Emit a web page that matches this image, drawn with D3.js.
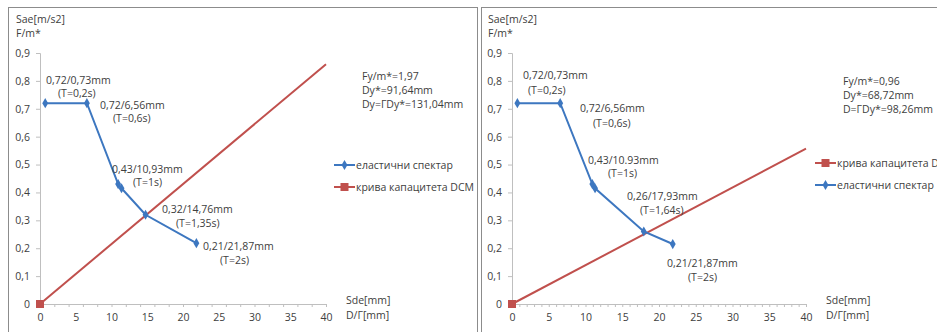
<!DOCTYPE html>
<html>
<head>
<meta charset="utf-8">
<script src="https://cdn.jsdelivr.net/npm/d3@7"></script>
<style>
  body { margin: 0; background: #fff; }
  svg text { font-family: "Open Sans", "Noto Sans", sans-serif; fill: #404040; }
</style>
</head>
<body>
<svg id="chart" width="937" height="332"></svg>
<script>
/* two capacity spectrum charts side by side */

// tick labels
var yTicks = [0, 0.1, 0.2, 0.3, 0.4, 0.5, 0.6, 0.7, 0.8, 0.9];
var xTicks = [0, 5, 10, 15, 20, 25, 30, 35, 40];

// left chart: [Sde mm, Sae]
var leftSpectrum = [[0.73, 0.72], [6.56, 0.72], [10.93, 0.43], [11.4, 0.415], [14.76, 0.32], [21.87, 0.218]];
var leftCapacity = [[0, 0], [40, 0.86]];
var leftLabels = [
  ["0,72/0,73mm", "(T=0,2s)"],
  ["0,72/6,56mm", "(T=0,6s)"],
  ["0,43/10,93mm", "(T=1s)"],
  ["0,32/14,76mm", "(T=1,35s)"],
  ["0,21/21,87mm", "(T=2s)"]
];
var leftNotes = ["Fy/m*=1,97", "Dy*=91,64mm", "Dy=ΓDy*=131,04mm"];
var leftLegend = ["еластични спектар", "крива капацитета DCM"];

// right chart
var rightSpectrum = [[0.73, 0.72], [6.56, 0.72], [10.93, 0.43], [11.3, 0.415], [17.93, 0.26], [21.87, 0.215]];
var rightCapacity = [[0, 0], [40, 0.557]];
var rightLabels = [
  ["0,72/0,73mm", "(T=0,2s)"],
  ["0,72/6,56mm", "(T=0,6s)"],
  ["0,43/10.93mm", "(T=1s)"],
  ["0,26/17,93mm", "(T=1,64s)"],
  ["0,21/21,87mm", "(T=2s)"]
];
var rightNotes = ["Fy/m*=0,96", "Dy*=68,72mm", "D=ΓDy*=98,26mm"];
var rightLegend = ["крива капацитета DCM", "еластични спектар"];

var blue = "#3d77c0", red = "#c0504d";
var svg = d3.select("#chart");

// panel frames
svg.append("rect").attr("x", 8.5).attr("y", 7.5).attr("width", 469).attr("height", 340)
  .attr("fill", "none").attr("stroke", "#8c8c8c");
svg.append("rect").attr("x", 481.5).attr("y", 7.5).attr("width", 470).attr("height", 340)
  .attr("fill", "none").attr("stroke", "#8c8c8c");

drawPanel({
  ox: 40, x40: 326, minor: 20,
  spectrum: leftSpectrum, capacity: leftCapacity,
  labels: leftLabels,
  // x, baseline, x of second line, gap
  labelPos: [[46, 84, 58, 13], [100, 109, 113, 13], [112, 173, 133, 13], [162, 213, 176, 14], [203, 250, 220, 14]],
  notes: leftNotes, notePos: [362, 80],
  legend: leftLegend, legendColors: [blue, red], legendPos: [334, 165]
});

drawPanel({
  ox: 512, x40: 806, minor: 40,
  spectrum: rightSpectrum, capacity: rightCapacity,
  labels: rightLabels,
  labelPos: [[523, 79, 528, 15], [580, 112, 593, 15], [588, 164, 608, 13], [627, 200, 640, 14], [667, 267, 688, 14]],
  notes: rightNotes, notePos: [843, 85],
  legend: rightLegend, legendColors: [red, blue], legendPos: [815, 163]
});

function drawPanel(c) {
  var x = d3.scaleLinear().domain([0, 40]).range([c.ox, c.x40]);
  var y = d3.scaleLinear().domain([0, 0.9]).range([304, 53]);
  var g = svg.append("g");

  // y axis
  var ya = g.append("g").attr("transform", "translate(" + c.ox + ",0)")
    .call(d3.axisLeft(y).tickValues(yTicks).tickSize(4).tickPadding(6)
      .tickFormat(function(d) { return d === 0 ? "0" : d3.format(".1f")(d).replace(".", ","); }));
  ya.select(".domain").attr("stroke", "#bfbfbf");
  ya.selectAll(".tick line").attr("stroke", "#bfbfbf");
  ya.selectAll("text").style("font-size", "10.5px");

  // x axis with minor ticks
  var xm = g.append("g").attr("transform", "translate(0,304)")
    .call(d3.axisBottom(x).tickValues(d3.range(c.minor + 1).map(function(i) { return i * 40 / c.minor; }))
      .tickSize(3).tickFormat(""));
  xm.select(".domain").attr("stroke", "#bfbfbf");
  xm.selectAll(".tick line").attr("stroke", "#bfbfbf");
  var xa = g.append("g").attr("transform", "translate(0,304)")
    .call(d3.axisBottom(x).tickValues(xTicks).tickSize(0).tickPadding(10));
  xa.select(".domain").remove();
  xa.selectAll("text").style("font-size", "10.5px");

  // axis titles
  g.append("text").attr("x", c.ox - 24).attr("y", 23).style("font-size", "10.5px").text("Sae[m/s2]");
  g.append("text").attr("x", c.ox - 24).attr("y", 37).style("font-size", "10.5px").text("F/m*");
  g.append("text").attr("x", c.x40 + 20).attr("y", 304).style("font-size", "10.5px").text("Sde[mm]");
  g.append("text").attr("x", c.x40 + 20).attr("y", 319).style("font-size", "10.5px").text("D/Γ[mm]");

  var line = d3.line().x(function(d) { return x(d[0]); }).y(function(d) { return y(d[1]); });

  // capacity curve
  g.append("path").datum(c.capacity).attr("d", line)
    .attr("fill", "none").attr("stroke", red).attr("stroke-width", 2);
  g.append("rect").attr("x", x(c.capacity[0][0]) - 4).attr("y", y(c.capacity[0][1]) - 4)
    .attr("width", 8).attr("height", 8).attr("fill", red);

  // elastic spectrum
  g.append("path").datum(c.spectrum).attr("d", line)
    .attr("fill", "none").attr("stroke", blue).attr("stroke-width", 2);
  g.selectAll(".pt").data(c.spectrum).enter().append("path").attr("class", "pt")
    .attr("transform", function(d) { return "translate(" + x(d[0]) + "," + y(d[1]) + ")"; })
    .attr("d", d3.symbol(d3.symbolDiamond, 30)).attr("fill", blue);

  // point labels
  c.labels.forEach(function(l, i) {
    var p = c.labelPos[i];
    g.append("text").attr("x", p[0]).attr("y", p[1]).style("font-size", "10.5px").text(l[0]);
    g.append("text").attr("x", p[2]).attr("y", p[1] + p[3]).style("font-size", "10.5px").text(l[1]);
  });

  // notes
  c.notes.forEach(function(n, i) {
    g.append("text").attr("x", c.notePos[0]).attr("y", c.notePos[1] + i * 14)
      .style("font-size", "10.5px").text(n);
  });

  // legend
  c.legend.forEach(function(name, i) {
    var ly = c.legendPos[1] + i * 22, lx = c.legendPos[0];
    var col = c.legendColors[i];
    g.append("line").attr("x1", lx).attr("x2", lx + 21).attr("y1", ly).attr("y2", ly)
      .attr("stroke", col).attr("stroke-width", 2);
    if (col === red) {
      g.append("rect").attr("x", lx + 6.5).attr("y", ly - 4).attr("width", 8).attr("height", 8).attr("fill", red);
    } else {
      g.append("path").attr("transform", "translate(" + (lx + 10.5) + "," + ly + ")")
        .attr("d", d3.symbol(d3.symbolDiamond, 30)).attr("fill", blue);
    }
    g.append("text").attr("x", lx + 22).attr("y", ly + 4).style("font-size", "10.5px").text(name);
  });
}
</script>
</body>
</html>
